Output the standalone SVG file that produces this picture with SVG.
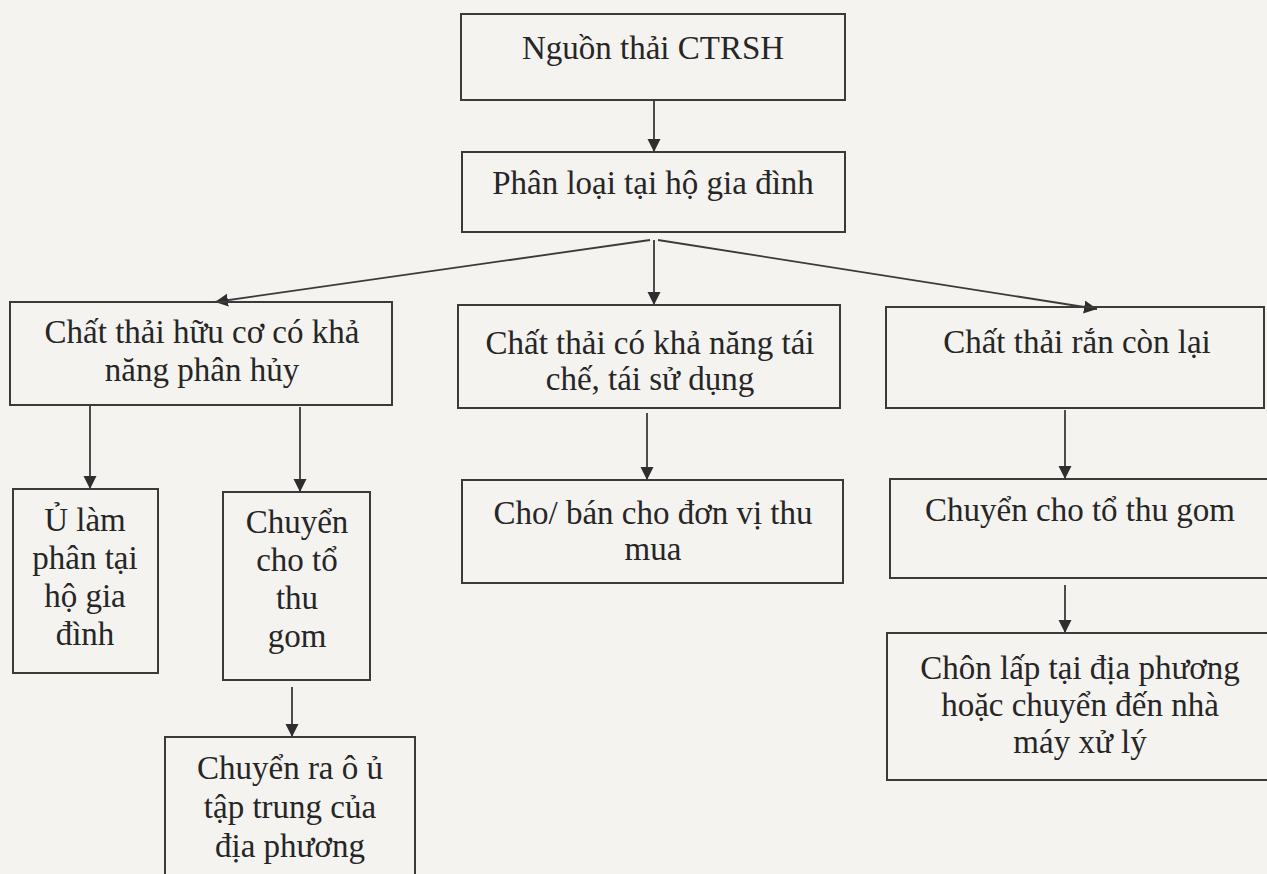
<svg xmlns="http://www.w3.org/2000/svg" width="1267" height="874" viewBox="0 0 1267 874">
<defs>
<marker id="ah" markerUnits="userSpaceOnUse" markerWidth="14" markerHeight="14" refX="13" refY="6.5" orient="auto">
<path d="M0,0 L13,6.5 L0,13 Z" fill="#2e2e2e"/>
</marker>
<style>
.box{fill:none;stroke:#3a3a3a;stroke-width:2}
.t{font-family:"Liberation Serif","Times New Roman",serif;font-size:33px;fill:#262626;text-anchor:middle}
.c{stroke:#3a3a3a;stroke-width:1.8;fill:none;marker-end:url(#ah)}
</style>
</defs>
<rect x="0" y="0" width="1267" height="874" fill="#f4f3f0"/>
<g id="connectors">
<line class="c" x1="654" y1="100" x2="654" y2="152"/>
<line class="c" x1="650" y1="240" x2="215" y2="302"/>
<line class="c" x1="654" y1="240" x2="654" y2="305"/>
<line class="c" x1="658" y1="240" x2="1097" y2="309"/>
<line class="c" x1="90" y1="405" x2="90" y2="489"/>
<line class="c" x1="300" y1="407" x2="300" y2="492"/>
<line class="c" x1="647" y1="413" x2="647" y2="480"/>
<line class="c" x1="1065" y1="410" x2="1065" y2="479"/>
<line class="c" x1="1065" y1="585" x2="1065" y2="633"/>
<line class="c" x1="292" y1="687" x2="292" y2="737"/>
</g>
<g id="n1"><rect class="box" x="461" y="14" width="384" height="86"/><text class="t" x="653" y="59">Nguồn thải CTRSH</text></g>
<g id="n2"><rect class="box" x="462" y="152" width="383" height="80"/><text class="t" x="653" y="194">Phân loại tại hộ gia đình</text></g>
<g id="n3"><rect class="box" x="10" y="302" width="382" height="103"/><text class="t" x="202" y="343">Chất thải hữu cơ có khả</text><text class="t" x="202" y="381">năng phân hủy</text></g>
<g id="n4"><rect class="box" x="458" y="305" width="382" height="103"/><text class="t" x="650" y="354">Chất thải có khả năng tái</text><text class="t" x="650" y="390">chế, tái sử dụng</text></g>
<g id="n5"><rect class="box" x="886" y="307" width="378" height="101"/><text class="t" x="1077" y="353">Chất thải rắn còn lại</text></g>
<g id="n6"><rect class="box" x="13" y="489" width="145" height="184"/><text class="t" x="85" y="531">Ủ làm</text><text class="t" x="85" y="569">phân tại</text><text class="t" x="85" y="607">hộ gia</text><text class="t" x="85" y="645">đình</text></g>
<g id="n7"><rect class="box" x="223" y="492" width="147" height="188"/><text class="t" x="297" y="533">Chuyển</text><text class="t" x="297" y="571">cho tổ</text><text class="t" x="297" y="609">thu</text><text class="t" x="297" y="647">gom</text></g>
<g id="n11"><rect class="box" x="462" y="480" width="381" height="103"/><text class="t" x="653" y="524">Cho/ bán cho đơn vị thu</text><text class="t" x="653" y="560">mua</text></g>
<g id="n8"><rect class="box" x="890" y="479" width="390" height="99"/><text class="t" x="1080" y="521">Chuyển cho tổ thu gom</text></g>
<g id="n9"><rect class="box" x="887" y="633" width="393" height="147"/><text class="t" x="1080" y="679">Chôn lấp tại địa phương</text><text class="t" x="1080" y="716">hoặc chuyển đến nhà</text><text class="t" x="1080" y="753">máy xử lý</text></g>
<g id="n10"><rect class="box" x="165" y="737" width="250" height="150"/><text class="t" x="290" y="779">Chuyển ra ô ủ</text><text class="t" x="290" y="818">tập trung của</text><text class="t" x="290" y="857">địa phương</text></g>
</svg>
